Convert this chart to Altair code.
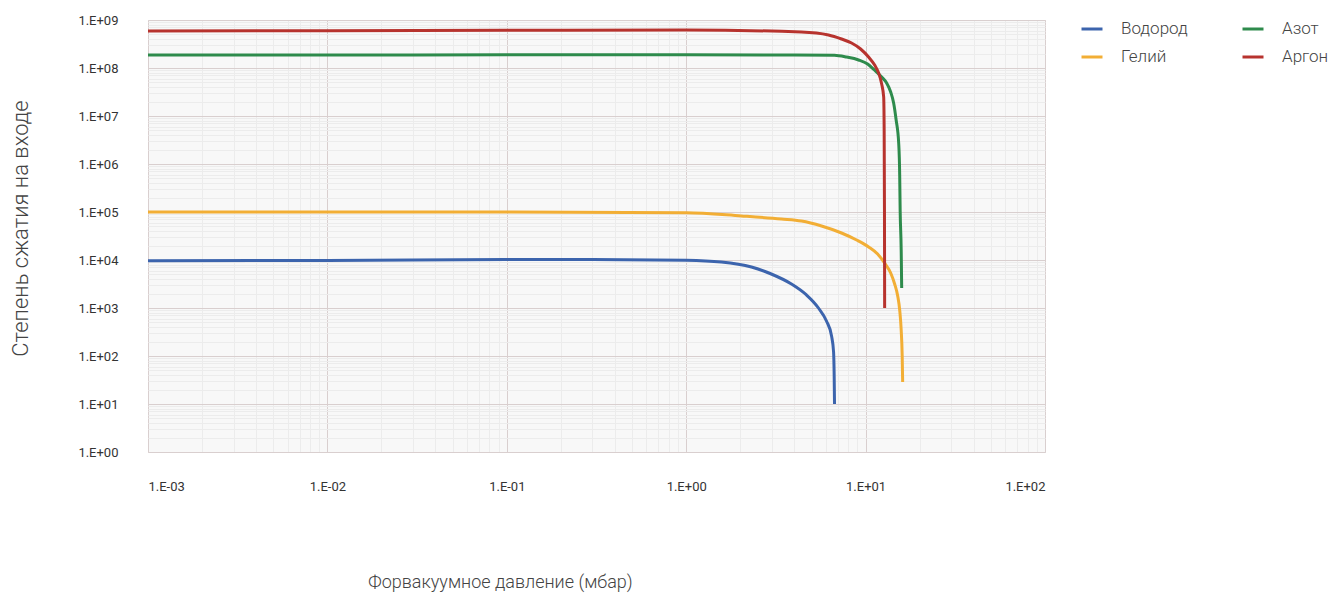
import altair as alt
import pandas as pd

# ---- data ----
h2_x = [0.001, 0.01, 0.1, 0.3, 1.0, 1.57, 2.31, 2.98, 3.86, 4.68, 5.46, 6.05, 6.46, 6.63, 6.68, 6.71]
h2_y = [9.6e3, 9.8e3, 1.02e4, 1.03e4, 9.9e3, 9.1e3, 7.15e3, 5.11e3, 3.16e3, 1.87e3, 1.0e3, 536, 261, 121, 40, 10]

he_x = [0.001, 0.01, 0.1, 1.0, 2.03, 3.39, 4.39, 5.68, 7.34, 8.91, 10.4, 11.67, 12.75,
        13.8, 14.52, 15.1, 15.49, 15.79, 15.99, 16.09]
he_y = [1.0e5, 1.0e5, 1.0e5, 9.7e4, 8.26e4, 7.15e4, 6.49e4, 5.11e4, 3.65e4, 2.61e4, 1.87e4, 1.33e4, 8.66e3,
        5.36e3, 3.16e3, 1.78e3, 909, 348, 105, 28.7]

n2_x = [0.001, 0.01, 0.1, 1.0, 4.0, 6.7, 7.83, 9.14, 10.26, 11.2, 12.29, 13.1, 13.8, 14.33,
        14.8, 15.29, 15.49, 15.58, 15.79, 15.89]
n2_y = [1.87e8, 1.87e8, 1.88e8, 1.88e8, 1.87e8, 1.84e8, 1.69e8, 1.47e8, 1.21e8, 9.08e7, 6.49e7, 4.87e7, 3.16e7, 1.87e7,
        8.25e6, 2.74e6, 5.9e5, 1.1e5, 1.62e4, 2.61e3]

ar_x = [0.001, 0.01, 0.1, 1.0, 4.39, 6.21, 7.34, 8.35, 9.38, 10.39, 11.23, 11.82, 12.29,
        12.61, 12.69, 12.74, 12.77]
ar_y = [5.9e8, 6.0e8, 6.1e8, 6.2e8, 5.62e8, 4.87e8, 4.02e8, 3.32e8, 2.49e8, 1.69e8, 1.15e8, 7.87e7, 4.64e7,
        2.49e7, 5.1e6, 1.1e5, 1.0e3]

gases = ["Водород", "Гелий", "Азот", "Аргон"]
colors = ["#3c64ad", "#f2ae35", "#2e8b4c", "#b7332e"]

x_major = [0.001, 0.01, 0.1, 1, 10, 100]
y_major = [1, 10, 100, 1e3, 1e4, 1e5, 1e6, 1e7, 1e8, 1e9]

rows = []
for name, xs_, ys_ in [("Водород", h2_x, h2_y), ("Гелий", he_x, he_y),
                       ("Азот", n2_x, n2_y), ("Аргон", ar_x, ar_y)]:
    for i, (a, b) in enumerate(zip(xs_, ys_)):
        rows.append({"gas": name, "p": a, "k": b, "i": i})
df = pd.DataFrame(rows)

x_minor = [m * 10.0 ** e for e in range(-3, 2) for m in range(2, 10)]
y_minor = [m * 10.0 ** e for e in range(0, 9) for m in range(2, 10)]

font = "Roboto"
lab_expr = ("'1.E' + (datum.value >= 1 ? '+' : '-') + "
            "(abs(round(log(datum.value)/LN10)) < 10 ? '0' : '') + "
            "format(abs(round(log(datum.value)/LN10)), 'd')")

xs = alt.Scale(type="log", domain=[0.001, 100], nice=False)
ys = alt.Scale(type="log", domain=[1, 1e9], nice=False)

minor = alt.Chart(df).mark_line(opacity=0).encode(
    x=alt.X("p:Q", scale=xs, axis=alt.Axis(values=x_minor, grid=True, gridColor="#ececec",
                                           labels=False, ticks=False, domain=False, title=None,
                                           orient="bottom")),
    y=alt.Y("k:Q", scale=ys, axis=alt.Axis(values=y_minor, grid=True, gridColor="#ececec",
                                           labels=False, ticks=False, domain=False, title=None,
                                           orient="left")),
    detail="gas:N",
)

main = alt.Chart(df).mark_line(strokeWidth=3, interpolate="monotone").encode(
    x=alt.X("p:Q", scale=xs, axis=alt.Axis(
        values=x_major, grid=True, gridColor="#d9cfcf", labelExpr=lab_expr,
        labelFlush=True, ticks=False, domain=False, labelPadding=28,
        labelFont=font, labelFontSize=13, labelColor="#333333",
        title="Форвакуумное давление (мбар)", titleFont=font, titleFontSize=18,
        titleFontWeight=300, titleColor="#444444", titleX=352, titleY=130,
        titleBaseline="middle", orient="bottom")),
    y=alt.Y("k:Q", scale=ys, axis=alt.Axis(
        values=y_major, grid=True, gridColor="#d9cfcf", labelExpr=lab_expr,
        ticks=False, domain=False, labelPadding=30,
        labelFont=font, labelFontSize=13, labelColor="#333333",
        title="Степень сжатия на входе", titleFont=font, titleFontSize=22,
        titleFontWeight=300, titleColor="#444444", titleX=-128, titleY=208,
        titleBaseline="middle", orient="left")),
    color=alt.Color("gas:N", scale=alt.Scale(domain=gases, range=colors),
                    legend=alt.Legend(title=None, orient="none", legendX=932, legendY=-3,
                                      columns=2, columnPadding=48, rowPadding=8,
                                      symbolType="stroke", symbolStrokeWidth=3, symbolSize=441,
                                      labelFont=font, labelFontSize=17, labelFontWeight=300,
                                      labelColor="#444444", labelOffset=17)),
    order="i:Q",
)

chart = alt.layer(minor, main).resolve_axis(x="independent", y="independent").properties(
    width=897, height=432,
    autosize=alt.AutoSizeParams(type="none"),
    padding={"left": 140, "top": 12, "right": 285, "bottom": 142},
).configure_view(fill="#f8f8f8", stroke="#dddddd")

chart.save("out.html", embed_options={"renderer": "svg", "actions": False})
